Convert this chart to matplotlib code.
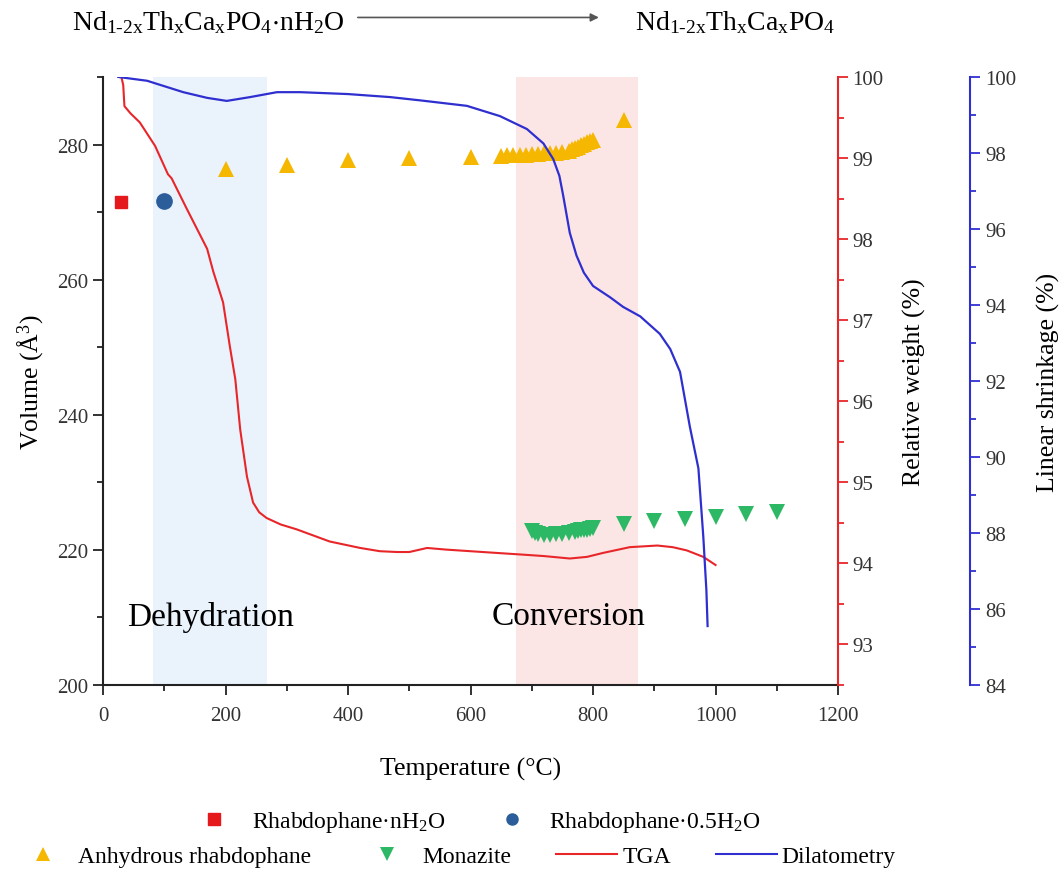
import matplotlib.pyplot as plt
from matplotlib.lines import Line2D
from matplotlib.patches import FancyArrowPatch
from matplotlib.ticker import MultipleLocator

plt.rcParams['font.family'] = 'Liberation Serif'
plt.rcParams['mathtext.fontset'] = 'custom'
plt.rcParams['mathtext.rm'] = 'Liberation Serif'
plt.rcParams['mathtext.it'] = 'Liberation Serif:italic'
plt.rcParams['mathtext.default'] = 'regular'

# cell volumes from XRD (A^3)
hydrated_temp = [30]
hydrated_vol = [271.5]
hemihydrate_temp = [100]
hemihydrate_vol = [271.6]
anhydrous_temp = [200, 300, 400, 500, 600, 650, 660, 670, 680, 690, 700, 710, 720, 730,
                  740, 750, 760, 765, 770, 775, 780, 785, 790, 795, 800, 850]
anhydrous_vol = [276.4, 277.0, 277.7, 278.0, 278.2, 278.3, 278.4, 278.4, 278.5, 278.5,
                 278.6, 278.6, 278.7, 278.7, 278.8, 278.9, 279.1, 279.3, 279.5, 279.7,
                 279.9, 280.1, 280.3, 280.5, 280.6, 283.7]
monazite_temp = [700, 705, 710, 720, 730, 740, 750, 760, 770, 775, 780, 785, 790, 795, 800,
                 850, 900, 950, 1000, 1050, 1100]
monazite_vol = [222.8, 222.5, 222.3, 222.2, 222.2, 222.3, 222.4, 222.5, 222.7, 222.8,
                222.9, 223.0, 223.0, 223.1, 223.2, 223.9, 224.2, 224.5, 224.9, 225.3, 225.6]

# thermogravimetry (relative weight, %)
tga_temp = [30, 33, 35, 45, 60, 85, 106, 112, 137, 170, 180, 196, 207, 216, 224, 235, 245,
            255, 267, 290, 316, 370, 420, 452, 480, 500, 529, 560, 600, 640, 681, 720, 762,
            790, 817, 860, 905, 930, 953, 980, 1000]
tga_weight = [100, 99.9, 99.64, 99.55, 99.44, 99.15, 98.80, 98.75, 98.37, 97.88, 97.6, 97.22,
              96.68, 96.27, 95.65, 95.07, 94.75, 94.63, 94.56, 94.48, 94.42, 94.27, 94.19,
              94.15, 94.14, 94.14, 94.19, 94.17, 94.15, 94.13, 94.11, 94.09, 94.06, 94.08,
              94.13, 94.2, 94.22, 94.2, 94.16, 94.08, 93.98]

# dilatometry (linear shrinkage, %)
dil_temp = [25, 72, 131, 170, 202, 240, 284, 322, 400, 469, 520, 594, 648, 692, 719, 735,
            745, 751, 762, 773, 785, 800, 828, 849, 877, 909, 926, 942, 958, 972, 980, 985, 987]
dil_shrink = [100, 99.9, 99.6, 99.45, 99.37, 99.47, 99.6, 99.6, 99.55, 99.47, 99.38, 99.24,
              98.97, 98.63, 98.25, 97.84, 97.4, 96.9, 95.9, 95.3, 94.85, 94.5, 94.2, 93.95,
              93.7, 93.24, 92.84, 92.24, 90.8, 89.7, 87.9, 86.5, 85.55]

dehydration_range = (82, 268)
conversion_range = (675, 873)

red = '#e8262a'
blue = '#2f2fd0'
label_color = '#333333'

fig = plt.figure(figsize=(10.63, 8.79), dpi=100)
ax = fig.add_axes([0.0969, 0.2196, 0.6915, 0.6917])
ax_tga = ax.twinx()
ax_dil = ax.twinx()

ax.axvspan(*dehydration_range, color='#eaf3fc', zorder=0, lw=0)
ax.axvspan(*conversion_range, color='#fce5e5', zorder=0, lw=0)

ax.plot(hydrated_temp, hydrated_vol, 's', color='#e5191c', ms=9, zorder=5)
ax.plot(hemihydrate_temp, hemihydrate_vol, 'o', color='#2a5d9a', ms=11, zorder=5)
ax.plot(anhydrous_temp, anhydrous_vol, '^', color='#f5b700', ms=12, mew=0, zorder=5)
ax.plot(monazite_temp, monazite_vol, 'v', color='#2db866', ms=11, mew=0, zorder=5)

ax_tga.plot(tga_temp, tga_weight, color=red, lw=1.5)
ax_dil.plot(dil_temp, dil_shrink, color=blue, lw=1.6)

ax.text(40, 210.2, 'Dehydration', fontsize=24, va='center')
ax.text(635, 210.2, 'Conversion', fontsize=24, va='center')

ax.set_xlim(0, 1200)
ax.set_ylim(200, 290)
ax_tga.set_ylim(92.5, 100)
ax_dil.set_ylim(84, 100)

ax.xaxis.set_major_locator(MultipleLocator(200))
ax.xaxis.set_minor_locator(MultipleLocator(100))
ax.yaxis.set_major_locator(MultipleLocator(20))
ax.yaxis.set_minor_locator(MultipleLocator(10))
ax_tga.yaxis.set_major_locator(MultipleLocator(1))
ax_tga.yaxis.set_minor_locator(MultipleLocator(0.5))
ax_dil.yaxis.set_major_locator(MultipleLocator(2))
ax_dil.yaxis.set_minor_locator(MultipleLocator(1))

for a in (ax, ax_tga, ax_dil):
    a.spines['top'].set_visible(False)
    a.tick_params(which='major', length=7, width=1.3, labelsize=15, direction='out')
    a.tick_params(which='minor', length=4, width=1.3, direction='out')

ax.spines['right'].set_visible(False)
for s in ('left', 'bottom'):
    ax.spines[s].set_linewidth(1.5)
    ax.spines[s].set_color('#222222')
ax.tick_params(which='both', colors='#222222', labelcolor=label_color)
ax.tick_params(axis='x', pad=8)

ax_tga.spines['left'].set_visible(False)
ax_tga.spines['bottom'].set_visible(False)
ax_tga.spines['right'].set_color(red)
ax_tga.spines['right'].set_linewidth(1.5)
ax_tga.tick_params(which='both', colors=red, labelcolor=label_color)

ax_dil.spines['left'].set_visible(False)
ax_dil.spines['bottom'].set_visible(False)
ax_dil.spines['right'].set_position(('axes', 1.18))
ax_dil.spines['right'].set_color(blue)
ax_dil.spines['right'].set_linewidth(1.5)
ax_dil.tick_params(which='both', colors=blue, labelcolor=label_color)

ax.set_xlabel('Temperature (°C)', fontsize=18.5, labelpad=23)
ax.set_ylabel('Volume (Å$^3$)', fontsize=18.5, labelpad=8)
ax_tga.set_ylabel('Relative weight (%)', fontsize=18.5, labelpad=14)
ax_dil.set_ylabel('Linear shrinkage (%)', fontsize=18.5, labelpad=15)

# reaction scheme above the plot
fig.text(0.068, 0.974, r'Nd$_{1\text{-}2x}$Th$_x$Ca$_x$PO$_4$$\cdot$nH$_2$O', fontsize=20, va='center')
fig.text(0.597, 0.974, r'Nd$_{1\text{-}2x}$Th$_x$Ca$_x$PO$_4$', fontsize=20, va='center')
fig.patches.append(FancyArrowPatch(
    (0.334, 0.979), (0.566, 0.979), transform=fig.transFigure, arrowstyle='-|>',
    mutation_scale=12, color='#555555', lw=1.2))

row1 = [
    Line2D([], [], ls='none', marker='s', color='#e5191c', ms=8),
    Line2D([], [], ls='none', marker='o', color='#2a5d9a', ms=8),
]
row2 = [
    Line2D([], [], ls='none', marker='^', color='#f5b700', ms=10, mew=0),
    Line2D([], [], ls='none', marker='v', color='#2db866', ms=10, mew=0),
    Line2D([], [], color=red, lw=1.5),
    Line2D([], [], color=blue, lw=1.5),
]
leg1 = fig.legend(row1, ['Rhabdophane·nH$_2$O', 'Rhabdophane·0.5H$_2$O'], ncol=2,
                  loc='center', bbox_to_anchor=(0.444, 0.064), frameon=False, fontsize=17,
                  handlelength=2.6, handletextpad=0.3, columnspacing=1.5)
leg2 = fig.legend(row2, ['Anhydrous rhabdophane', 'Monazite', 'TGA', 'Dilatometry'], ncol=4,
                  loc='center', bbox_to_anchor=(0.427, 0.025), frameon=False, fontsize=17,
                  handlelength=2.6, handletextpad=0.2, columnspacing=1.9)

fig.savefig('out.png', dpi=100)
